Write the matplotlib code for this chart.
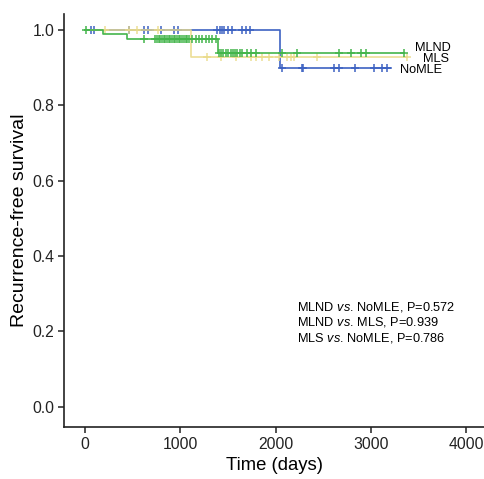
import matplotlib
matplotlib.use("Agg")
import matplotlib.pyplot as plt
import numpy as np

plt.rcParams["font.family"] = ["Liberation Sans", "DejaVu Sans"]
plt.rcParams["mathtext.fontset"] = "custom"
plt.rcParams["mathtext.rm"] = "Liberation Sans"
plt.rcParams["mathtext.it"] = "Liberation Sans:italic"

# step curves: event times and survival after each event
mlnd_events = [186, 438, 1390]
mlnd_surv = [1.0, 0.989, 0.976, 0.938]
mlnd_end = 3344
mlnd_cens = [10, 613, 737, 754, 772, 790, 807, 825, 842, 860, 877, 895, 912, 930, 947,
             965, 982, 1000, 1018, 1035, 1053, 1070, 1088, 1123, 1158, 1193, 1228,
             1263, 1298, 1333, 1368, 1404, 1421, 1449, 1474, 1498, 1526, 1555, 1571,
             1596, 1624, 1649, 1702, 1737, 1789, 2070, 2228, 2667, 2789, 2895, 2947, 3344]

mls_events = [1112]
mls_surv = [1.0, 0.929]
mls_end = 3380
mls_cens = [211, 456, 544, 768, 1281, 1421, 1579, 1737, 1789, 1860, 1930, 2035,
            2123, 2158, 2193, 2439, 3380]

nomle_events = [2040]
nomle_surv = [1.0, 0.898]
nomle_end = 3214
nomle_cens = [60, 95, 455, 620, 660, 800, 930, 970, 1386, 1411, 1432, 1456, 1502,
              1544, 1649, 1684, 1726, 2068, 2278, 2290, 2610, 2664, 2838, 3030, 3118, 3170]

groups = ["MLND", "MLS", "NoMLE"]
pvals = [("MLND", "NoMLE", "0.572"), ("MLND", "MLS", "0.939"), ("MLS", "NoMLE", "0.786")]

col_nomle = "#3d62c2"
col_mls = "#eadb8a"
col_mlnd = "#44b54b"


def km_curve(ax, events, surv, end, cens, color, alpha=1.0):
    t = np.concatenate([[0], events, [end]])
    s = np.concatenate([surv, [surv[-1]]])
    ax.step(t, s, where="post", color=color, lw=1.2, alpha=alpha)
    idx = np.searchsorted(events, cens, side="right")
    ax.plot(cens, np.array(surv)[idx], "+", color=color, ms=6, mew=1.1, alpha=alpha)


fig = plt.figure(figsize=(4.85, 4.79), dpi=100)
ax = fig.add_axes([0.132, 0.1086, 0.866, 0.8624])

km_curve(ax, nomle_events, nomle_surv, nomle_end, nomle_cens, col_nomle)
km_curve(ax, mls_events, mls_surv, mls_end, mls_cens, col_mls, alpha=0.9)
km_curve(ax, mlnd_events, mlnd_surv, mlnd_end, mlnd_cens, col_mlnd)

ax.text(3466, 0.952, groups[0], fontsize=9.2, va="center", ha="left")
ax.text(3550, 0.923, groups[1], fontsize=9.2, va="center", ha="left")
ax.text(3309, 0.893, groups[2], fontsize=9.2, va="center", ha="left")

for i, (a, b, p) in enumerate(pvals):
    ax.text(2227, 0.265 - i * 0.041, a + r" $\it{vs}$. " + b + ", P=" + p,
            fontsize=9.2, va="center", ha="left")

ax.set_xlim(-223, 4188)
ax.set_ylim(-0.054, 1.0425)
ax.set_xticks([0, 1000, 2000, 3000, 4000])
ax.set_yticks([0.0, 0.2, 0.4, 0.6, 0.8, 1.0])
ax.set_yticklabels(["0.0", "0.2", "0.4", "0.6", "0.8", "1.0"])
ax.spines["top"].set_visible(False)
ax.spines["right"].set_visible(False)
for sp in ["left", "bottom"]:
    ax.spines[sp].set_linewidth(1.2)
    ax.spines[sp].set_color("#222222")
ax.tick_params(labelsize=11.3, length=4, width=1.1, pad=3, colors="#222222")
ax.set_xlabel("Time (days)", fontsize=13.3, labelpad=4)
ax.set_ylabel("Recurrence-free survival", fontsize=14, labelpad=3)

fig.savefig("out.png", dpi=100)
